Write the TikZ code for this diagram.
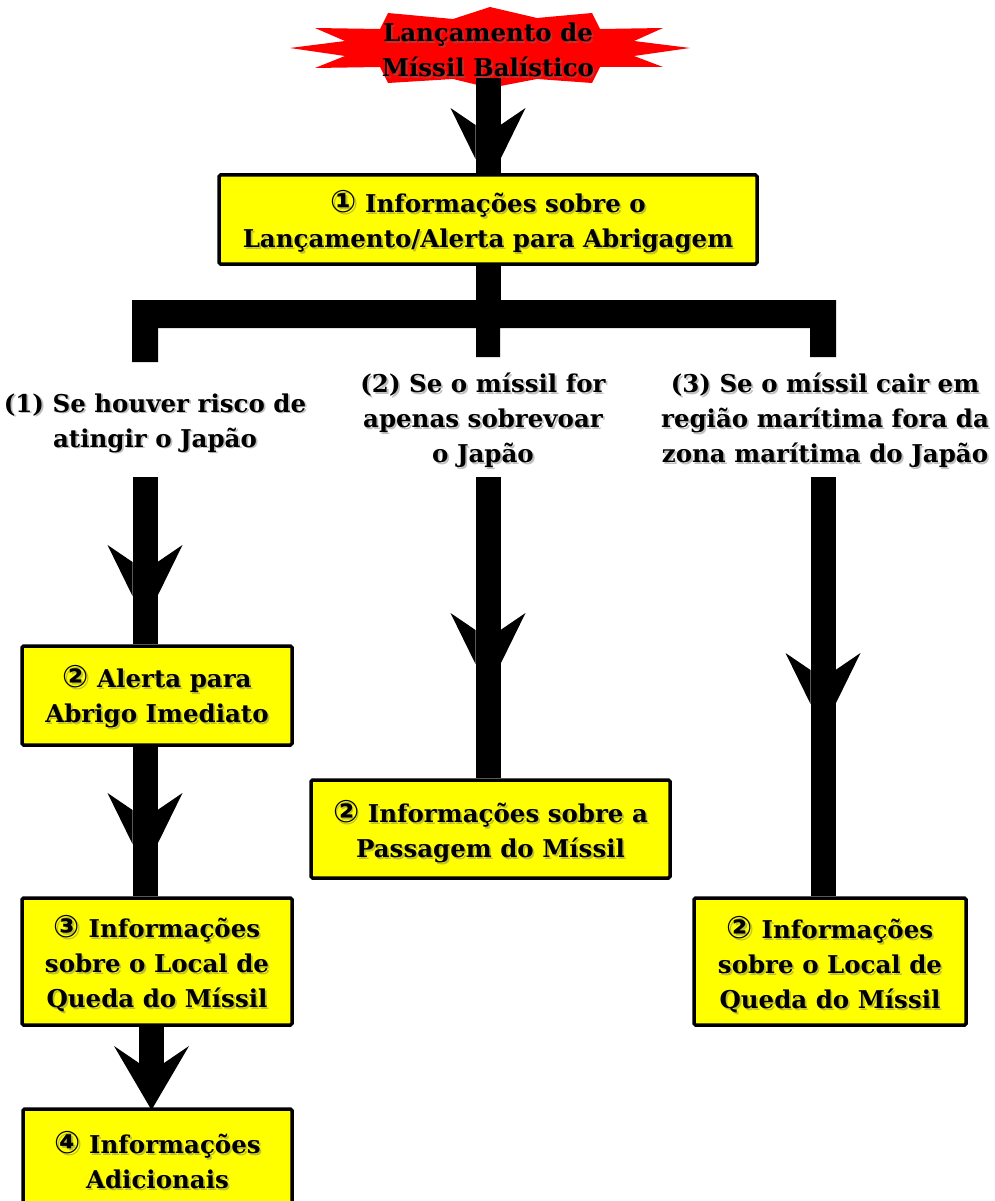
\documentclass[tikz,border=0pt]{standalone}
\usepackage{fontspec}
\setmainfont{DejaVu Serif}
\newfontfamily\cnum{DejaVu Sans}
\usetikzlibrary{calc}
\definecolor{ybg}{RGB}{255,255,0}
\definecolor{rbg}{RGB}{255,0,0}
\newcommand{\cn}[1]{{\cnum\fontsize{31}{35}\selectfont #1}}
\tikzset{
  txt/.style={align=center, inner sep=0pt, font=\bfseries\fontsize{24.5}{35}\selectfont, text=black},
  shd/.style={txt, text=black!55, opacity=.45},
  ybox/.style={draw=black, line width=3.5pt, fill=ybg, rounded corners=1.5pt, inner sep=0pt},
  shaft/.style={line width=25pt, draw=black, line cap=butt},
  barbfill/.style={fill=black},
}
\newcommand{\shtxt}[3]{%
  \node[shd] at ($(#1)+(1.8,1.8)$) {#3};
  \node[txt] (#2) at (#1) {#3};}
\newcommand{\barbs}[2]{%
  \fill[barbfill] (#1-37.5,#2) -- (#1-12.5,#2+17) -- (#1-12.5,#2+51) -- cycle;
  \fill[barbfill] (#1+37.5,#2) -- (#1+12.5,#2+17) -- (#1+12.5,#2+51) -- cycle;}
\begin{document}
\begin{tikzpicture}[x=1pt,y=-1pt]
\useasboundingbox (0,0) rectangle (995,1201);
\clip (0,0) rectangle (995,1201);
\fill[white] (0,0) rectangle (995,1201);

% star
\fill[rbg] (290,48) -- (345,41) -- (315,28) -- (380,29) -- (388,13) -- (453,19) -- (490,7) -- (537,18) -- (592,13) -- (600,29) -- (663,28) -- (634,41) -- (690,48) -- (634,56) -- (663,67) -- (600,67) -- (592,83) -- (537,79) -- (490,88) -- (453,79) -- (388,83) -- (380,67) -- (315,68) -- (345,56) -- cycle;

% boxes
\node[ybox, minimum width=538pt, minimum height=89pt] (b1) at (488,219.5) {};
\node[ybox, minimum width=270pt, minimum height=99pt] (b2) at (157,695.5) {};
\node[ybox, minimum width=270pt, minimum height=127pt] (b3) at (157,961.5) {};
\node[ybox, minimum width=269pt, minimum height=112pt] (b4) at (157.5,1165) {};
\node[ybox, minimum width=359pt, minimum height=98pt] (b5) at (490.5,829) {};
\node[ybox, minimum width=272pt, minimum height=127pt] (b6) at (830,961.5) {};

% top arrow
\coordinate (st) at (488,78);
\draw[shaft] (st) -- (st |- b1.north);
\barbs{488}{108}

% bracket
\draw[shaft] (b1.south) -- ++(0,40);
\coordinate (brL) at (132,300);
\coordinate (brR) at (836,300);
\fill[black] (brL) -- (brR) -- (836,357) -- (810,357) -- (810,328) -- (500,328) -- (500,357) -- (476,357) -- (476,328) -- (158,328) -- (158,362) -- (132,362) -- cycle;

% branch arrows
\coordinate (s1) at (145,477);
\coordinate (s2) at (488,477);
\coordinate (s3) at (823,477);
\draw[shaft] (s1) -- (s1 |- b2.north);
\barbs{145}{545}
\draw[shaft] (s2) -- (s2 |- b5.north);
\barbs{488}{613}
\draw[shaft] (s3) -- (s3 |- b6.north);
\barbs{823}{653}

\coordinate (s4) at (145,745);
\draw[shaft] (b2.south -| s4) -- (s4 |- b3.north);
\barbs{145}{793}

\coordinate (s5) at (151.5,1025);
\draw[shaft] (b3.south -| s5) -- (151.5,1065);
\fill[black] (114,1046) -- (139,1063) -- (164,1063) -- (189,1046) -- (151.5,1110) -- cycle;

% texts
\shtxt{488,50}{tstar}{Lançamento de\\Míssil Balístico}
\shtxt{488,222}{t1}{\cn{①} Informações sobre o\\Lançamento/Alerta para Abrigagem}
\shtxt{155,423}{l1}{(1) Se houver risco de\\atingir o Japão}
\shtxt{483,420}{l2}{(2) Se o míssil for\\apenas sobrevoar\\o Japão}
\shtxt{825,420}{l3}{(3) Se o míssil cair em\\região marítima fora da\\zona marítima do Japão}
\shtxt{157,697}{t2}{\cn{②} Alerta para\\Abrigo Imediato}
\shtxt{157,964}{t3}{\cn{③} Informações\\sobre o Local de\\Queda do Míssil}
\shtxt{157.5,1160.5}{t4}{\cn{④} Informações\\Adicionais}
\shtxt{490.5,832}{t5}{\cn{②} Informações sobre a\\Passagem do Míssil}
\shtxt{830,965}{t6}{\cn{②} Informações\\sobre o Local de\\Queda do Míssil}
\end{tikzpicture}
\end{document}
